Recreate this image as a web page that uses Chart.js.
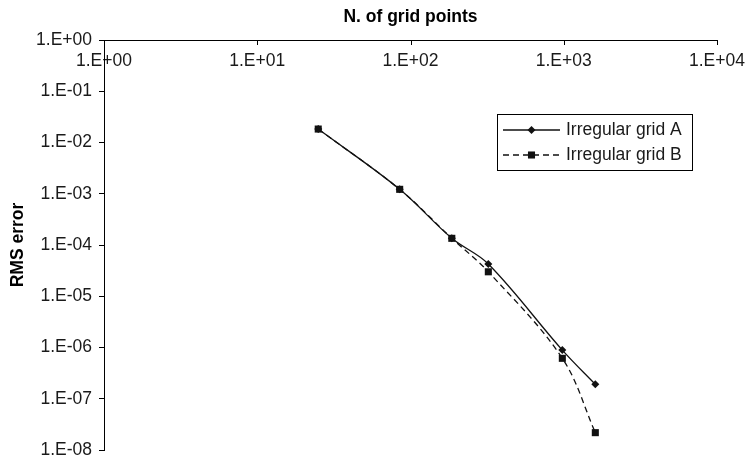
<!DOCTYPE html>
<html>
<head>
<meta charset="utf-8">
<script src="https://cdn.jsdelivr.net/npm/chart.js@4/dist/chart.umd.min.js"></script>
<style>
    html, body { margin: 0; padding: 0; background: #fff; }
    #wrap { width: 749px; height: 461px; }
</style>
</head>
<body>
<div id="wrap"><canvas id="chart"></canvas></div>
<script>
// values
const gridPointsA = [25, 85, 186, 322, 979, 1607]
const rmsErrorA = [1.83e-2, 1.22e-3, 1.35e-4, 4.26e-5, 8.9e-7, 1.91e-7]
const gridPointsB = [25, 85, 186, 322, 979, 1607]
const rmsErrorB = [1.83e-2, 1.22e-3, 1.35e-4, 3.0e-5, 6.15e-7, 2.18e-8]

const xTickValues = [1, 10, 100, 1000, 10000]
const xTickLabels = ["1.E+00", "1.E+01", "1.E+02", "1.E+03", "1.E+04"]
const yTickValues = [1, 1e-1, 1e-2, 1e-3, 1e-4, 1e-5, 1e-6, 1e-7, 1e-8]
const yTickLabels = ["1.E+00", "1.E-01", "1.E-02", "1.E-03", "1.E-04", "1.E-05", "1.E-06", "1.E-07", "1.E-08"]

const seriesNames = ["Irregular grid A", "Irregular grid B"]

Chart.defaults.font.family = "'Liberation Sans', Arial, sans-serif"
Chart.defaults.font.size = 17.5
Chart.defaults.color = "#1a1a1a"

function labelFor(values, labels, v) {
    const i = values.findIndex(t => Math.abs(Math.log10(t) - Math.log10(v)) < 1e-6)
    return i >= 0 ? labels[i] : ""
}

// x ticks point down into the plot, as in the original
const innerTicks = {
    id: "innerTicks",
    afterDraw(chart) {
        const ctx = chart.ctx
        const sx = chart.scales.x
        const top = chart.chartArea.top
        ctx.save()
        ctx.strokeStyle = "#000"
        ctx.lineWidth = 1
        ctx.beginPath()
        xTickValues.forEach(v => {
            const px = Math.round(sx.getPixelForValue(v)) + 0.5
            ctx.moveTo(px, top)
            ctx.lineTo(px, top + 5)
        })
        ctx.stroke()
        ctx.restore()
    }
}

// boxed legend inside the plot
const boxLegend = {
    id: "boxLegend",
    afterDraw(chart) {
        const ctx = chart.ctx
        const x0 = 497, y0 = 114, w = 195, h = 56
        ctx.save()
        ctx.strokeStyle = "#000"
        ctx.lineWidth = 1
        ctx.strokeRect(x0 + 0.5, y0 + 0.5, w, h)
        chart.data.datasets.forEach((ds, i) => {
            const y = y0 + 16 + i * 25
            ctx.strokeStyle = ds.borderColor
            ctx.lineWidth = ds.borderWidth
            ctx.setLineDash(ds.borderDash || [])
            ctx.beginPath()
            ctx.moveTo(x0 + 6, y)
            ctx.lineTo(x0 + 63, y)
            ctx.stroke()
            ctx.setLineDash([])
            ctx.fillStyle = ds.pointBackgroundColor
            ctx.strokeStyle = ds.pointBorderColor
            Chart.helpers.drawPoint(ctx, {
                pointStyle: ds.pointStyle,
                radius: ds.pointRadius,
                rotation: 0,
                borderWidth: 0
            }, x0 + 34.5, y)
            ctx.fillStyle = "#1a1a1a"
            ctx.font = "17.5px 'Liberation Sans', Arial, sans-serif"
            ctx.textBaseline = "middle"
            ctx.fillText(ds.label, x0 + 69, y)
        })
        ctx.restore()
    }
}

const chart = new Chart(document.getElementById("chart"), {
    type: "line",
    data: {
        datasets: [
            {
                label: seriesNames[0],
                data: gridPointsA.map((x, i) => ({ x: x, y: rmsErrorA[i] })),
                borderColor: "#111",
                borderWidth: 1.3,
                pointStyle: "rectRot",
                pointRadius: 4,
                pointBackgroundColor: "#111",
                pointBorderColor: "#111",
                pointBorderWidth: 0,
                tension: 0.35,
                fill: false
            },
            {
                label: seriesNames[1],
                data: gridPointsB.map((x, i) => ({ x: x, y: rmsErrorB[i] })),
                borderColor: "#111",
                borderWidth: 1.3,
                borderDash: [6, 4],
                pointStyle: "rect",
                pointRadius: 5,
                pointBackgroundColor: "#111",
                pointBorderColor: "#111",
                pointBorderWidth: 0,
                tension: 0.35,
                fill: false
            }
        ]
    },
    options: {
        responsive: true,
        maintainAspectRatio: false,
        animation: false,
        layout: { padding: { top: 0, left: 0, right: 32, bottom: 11 } },
        plugins: {
            legend: { display: false },
            tooltip: { enabled: false }
        },
        scales: {
            x: {
                type: "logarithmic",
                position: "top",
                min: 1,
                max: 10000,
                afterBuildTicks: s => { s.ticks = xTickValues.map(v => ({ value: v })) },
                afterFit: s => {
                    s.height = 40
                    s.paddingLeft = 0
                    s.paddingRight = 0
                },
                grid: { display: false },
                border: { display: true, color: "#000", width: 1 },
                ticks: {
                    mirror: true,
                    padding: 10.5,
                    maxRotation: 0,
                    autoSkip: false,
                    callback: v => labelFor(xTickValues, xTickLabels, v)
                },
                title: {
                    display: true,
                    text: "N. of grid points",
                    color: "#000",
                    font: { size: 17.5, weight: "bold" },
                    padding: { top: 6.5, bottom: 0 }
                }
            },
            y: {
                type: "logarithmic",
                position: "left",
                min: 1e-8,
                max: 1,
                afterBuildTicks: s => { s.ticks = yTickValues.map(v => ({ value: v })) },
                afterFit: s => {
                    s.width = 104
                    s.paddingTop = 0
                    s.paddingBottom = 0
                },
                grid: { display: true, drawOnChartArea: false, drawTicks: true, tickLength: 5, color: "#000" },
                border: { display: true, color: "#000", width: 1 },
                ticks: {
                    padding: 7,
                    autoSkip: false,
                    callback: v => labelFor(yTickValues, yTickLabels, v)
                },
                title: {
                    display: true,
                    text: "RMS error",
                    color: "#000",
                    font: { size: 17.5, weight: "bold" },
                    padding: { top: 7.5, bottom: 0 }
                }
            }
        }
    },
    plugins: [innerTicks, boxLegend]
})
</script>
</body>
</html>
